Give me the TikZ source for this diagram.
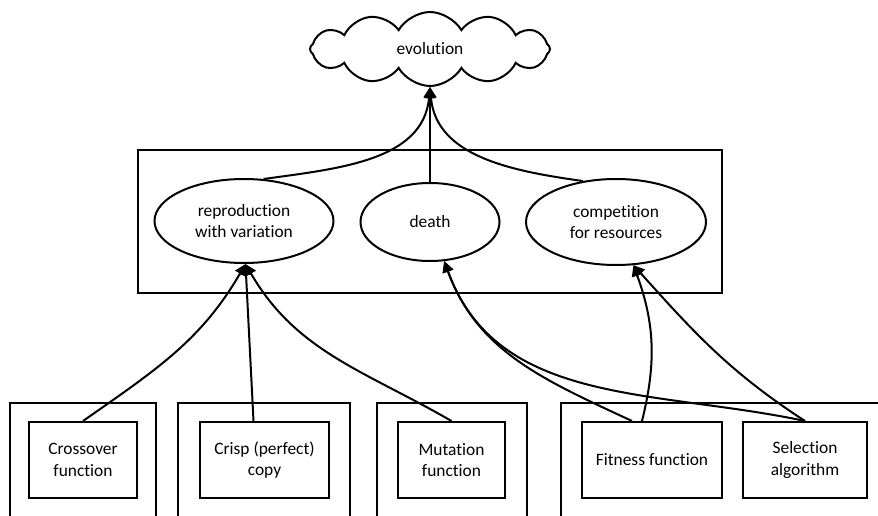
\documentclass[tikz,border=0pt]{standalone}
\usepackage{fontspec}
\setmainfont{Carlito}[Ligatures=NoCommon]
\usetikzlibrary{shapes.symbols,shapes.geometric,arrows.meta}

\begin{document}
\begin{tikzpicture}[x=1pt,y=-1pt,line width=2pt,
		font=\fontsize{17.4}{21.5}\selectfont,
		box/.style={draw,rectangle,align=center,inner sep=0pt},
		oval/.style={draw,ellipse,align=center,inner sep=0pt},
		arr/.style={-{Triangle[length=11pt,width=11pt]}}]
			\useasboundingbox (0,0) rectangle (878,516);
			\clip (0,0) rectangle (878,516);
			% top
			\node[draw,cloud,cloud puffs=12,cloud puff arc=120,aspect=3.2,minimum width=240pt,minimum height=74pt,inner sep=0pt] (evo) at (430,49) {evolution};
			% middle
			\node[box,minimum width=584pt,minimum height=143pt] (env) at (430,221.5) {};
			\node[oval,minimum width=179pt,minimum height=84pt] (repro) at (244,221) {reproduction\\with variation};
			\node[oval,minimum width=139pt,minimum height=78pt] (death) at (430,222) {death};
			\node[oval,minimum width=180pt,minimum height=86pt] (comp) at (616,222) {competition\\for resources};
			% bottom
			\node[box,minimum width=146pt,minimum height=157pt] (grpA) at (83,481.5) {};
			\node[box,minimum width=172pt,minimum height=157pt] (grpB) at (264,481.5) {};
			\node[box,minimum width=150pt,minimum height=157pt] (grpC) at (452,481.5) {};
			\node[box,minimum width=359pt,minimum height=157pt] (grpD) at (740.5,481.5) {};
			\node[box,minimum width=108pt,minimum height=76pt] (cross) at (83,460) {Crossover\\function};
			\node[box,minimum width=129pt,minimum height=76pt] (crisp) at (264.5,460) {Crisp (perfect)\\copy};
			\node[box,minimum width=107pt,minimum height=76pt] (mut) at (451.5,460) {Mutation\\function};
			\node[box,minimum width=140pt,minimum height=76pt] (fit) at (652,460) {Fitness function};
			\node[box,minimum width=124pt,minimum height=76pt] (sel) at (805,460) {Selection\\algorithm};
			% connectors
			\draw[arr] (repro.65) to[out=8,in=-95] (evo.south);
			\draw[arr] (death.north) -- (evo.south);
			\draw[arr] (comp.129) to[out=172,in=-85] (evo.south);
			\draw[arr] (cross.north) to[out=35,in=-120] (repro.-88);
			\draw[arr] ([xshift=-11pt]crisp.north) -- (repro.-88);
			\draw[arr] (mut.north) to[out=150,in=-60] (repro.-88);
			\draw[arr] ([xshift=-20pt]fit.north) to[out=155,in=-70] (death.-70);
			\draw[arr] ([xshift=-10pt]fit.north) to[out=76,in=-70] (comp.-68);
			\draw[arr] (sel.north) to[out=168,in=-70] (death.-70);
			\draw[arr] (sel.north) to[out=147,in=-48] (comp.-68);
		\end{tikzpicture}
\end{document}
